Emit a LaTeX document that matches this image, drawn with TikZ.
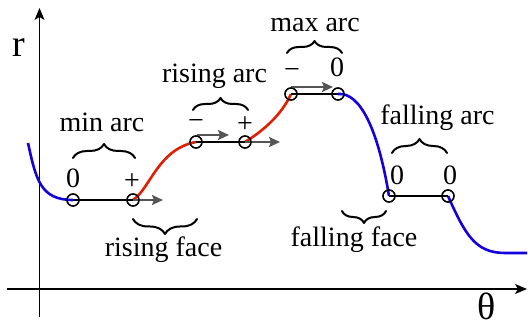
\documentclass[tikz,border=0pt]{standalone}
\usepackage{fontspec}
\setmainfont{Liberation Serif}
\usetikzlibrary{arrows.meta,decorations.pathreplacing}
\definecolor{curveblue}{RGB}{20,0,220}
\definecolor{curvered}{RGB}{225,30,0}
\definecolor{arrowgray}{RGB}{85,85,85}
\begin{document}
\begin{tikzpicture}[x=1pt,y=1pt,
  lbl/.style={font=\fontsize{28}{30}\selectfont, inner sep=0pt, anchor=base},
  sgn/.style={font=\fontsize{28}{30}\selectfont, inner sep=0pt},
  axlbl/.style={font=\fontsize{38}{40}\selectfont, inner sep=0pt, anchor=base},
  pt/.style={circle, draw, line width=1.3pt, minimum size=12pt, inner sep=0pt},
  axisline/.style={line width=1.3pt, -{Stealth[length=12pt,width=10pt,inset=3pt]}},
  bluecurve/.style={curveblue, line width=2.6pt},
  redcurve/.style={curvered, line width=2.6pt},
  arcseg/.style={black, line width=2.6pt},
  move/.style={arrowgray, line width=2pt, -{Stealth[length=11pt,width=10pt,inset=2pt]}},
  brc/.style={decorate, line width=2pt, line cap=round, line join=round},
]
\useasboundingbox (0,0) rectangle (528,329);

% axes
\coordinate (yb) at (39.5,12);
\coordinate (yt) at (39.5,321);
\coordinate (xl) at (7,40);
\coordinate (xr) at (527,40);
\draw[axisline] (yb) -- (yt);
\draw[axisline] (xl) -- (xr);
\node[axlbl] (rlab) at (19,272) {r};
\node[axlbl] (thlab) at (487,9) {θ};

% key points
\coordinate (s) at (28,186);
\coordinate (e) at (527,76);
\node[pt] (a1) at (73,129) {};
\node[pt] (a2) at (133,129) {};
\node[pt] (b1) at (196,187) {};
\node[pt] (b2) at (245,187) {};
\node[pt] (c1) at (291,235) {};
\node[pt] (c2) at (338,235) {};
\node[pt] (d1) at (389,133) {};
\node[pt] (d2) at (448,133) {};

% curves
\draw[bluecurve] (s) .. controls (36,150) and (40,129) .. (a1.center);
\draw[redcurve] (a2.center) .. controls (150,140) and (158,180) .. (b1.center);
\draw[redcurve] (b2.center) .. controls (255,193) and (280,210) .. (c1.center);
\draw[bluecurve] (c2.center) .. controls (360,237) and (378,200) .. (d1.center);
\draw[bluecurve] (d2.center) .. controls (465,95) and (475,76) .. (505,76) -- (e);

% arc segments
\draw[arcseg] (a1.center) -- (a2.center);
\draw[arcseg] (b1.center) -- (b2.center);
\draw[arcseg] (c1.center) -- (c2.center);
\draw[arcseg] (d1.center) -- (d2.center);

% motion arrows
\coordinate (m1) at (163,129);
\coordinate (m2s) at (197,194);
\coordinate (m2) at (229,194);
\coordinate (m3) at (280,187);
\coordinate (m4s) at (291,242);
\coordinate (m4) at (333,242);
\draw[move] (a2.center) -- (m1);
\draw[move] (m2s) -- (m2);
\draw[move] (b2.center) -- (m3);
\draw[move] (m4s) -- (m4);

% redraw circles on top
\foreach \n in {a1,a2,b1,b2,c1,c2,d1,d2} \node[pt] at (\n) {};

% signs
\node[lbl] (za1) at (73,141) {0};
\node[sgn] (pa2) at (132,147) {+};
\node[sgn] (mb1) at (196,204) {−};
\node[sgn] (pb2) at (245,204) {+};
\node[sgn] (mc1) at (292,255) {−};
\node[lbl] (zc2) at (337,252) {0};
\node[lbl] (zd1) at (397,144) {0};
\node[lbl] (zd2) at (450,144) {0};

% braces
\draw[brc, decoration={brace, amplitude=14pt}] (73,171) -- (135,171);
\draw[brc, decoration={brace, amplitude=12pt}] (193,219) -- (248,219);
\draw[brc, decoration={brace, amplitude=12pt}] (287,276) -- (342,276);
\draw[brc, decoration={brace, amplitude=14pt}] (392,176) -- (447,176);
\draw[brc, decoration={brace, amplitude=15pt}] (197,110) -- (133,110);
\draw[brc, decoration={brace, amplitude=12pt}] (386,118) -- (342,118);

% labels
\node[lbl] (lmin) at (102,197) {min arc};
\node[lbl] (lrise) at (214.5,246) {rising arc};
\node[lbl] (lmax) at (315,297) {max arc};
\node[lbl] (lfall) at (437.5,204) {falling arc};
\node[lbl] (lrf) at (163.5,72) {rising face};
\node[lbl] (lff) at (354,82) {falling face};
\end{tikzpicture}
\end{document}
